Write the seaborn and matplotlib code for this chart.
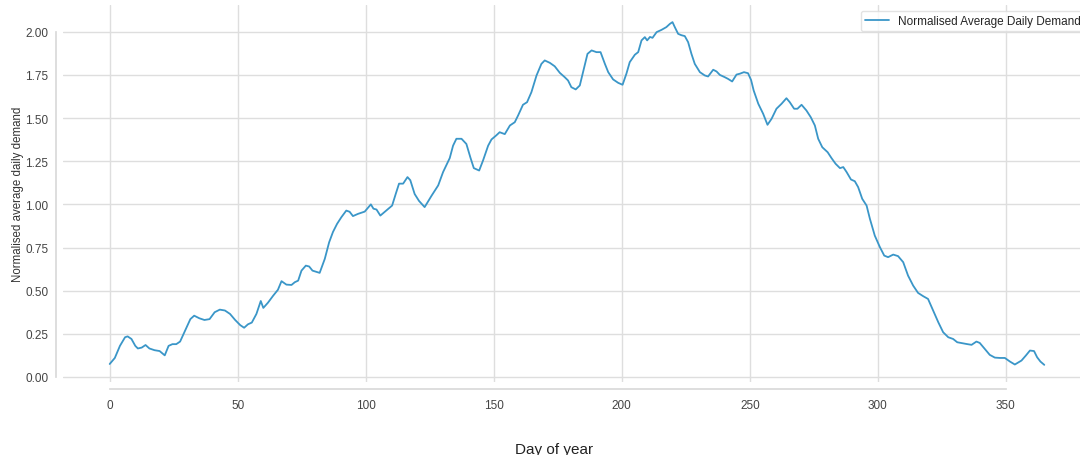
"""
Normalised average daily demand across the year, drawn as a single line.
"""

import numpy as np
import pandas as pd
import seaborn as sns
import matplotlib.pyplot as plt

# ---------------------------------------------------------------------------
# Data
# ---------------------------------------------------------------------------
days = [
    0, 2, 4, 6, 7, 8.5, 10, 11, 12.5, 14, 15.5, 17.5, 19.5, 21.5, 23, 24.5,
    26, 27.5, 29.5, 31.5, 33, 35, 37, 39, 41, 43, 45, 47, 49, 51, 52.5, 54,
    55.5, 57.3, 59, 60, 61.8, 63.8, 65.7, 67.1, 69, 71, 72.3, 73.6, 74.9,
    76.6, 77.9, 79.2, 82, 84, 85.7, 87.2, 88.8, 90.5, 92.4, 93.7, 95, 97,
    99.6, 102, 103, 104.2, 105.7, 108, 110.3, 111.7, 113, 114.6, 116.3,
    117.4, 119.1, 120.8, 123, 125.7, 128.3, 130.2, 132.8, 134.1, 135.4,
    137.4, 139.3, 140.9, 142.2, 144.3, 145.8, 147.8, 149.1, 151, 152.3,
    154.3, 156.3, 158.2, 159.5, 161.4, 163, 164.7, 166.7, 168.6, 169.9,
    171.9, 173.8, 175.8, 177.7, 179, 180.3, 182, 183.6, 185.2, 186.6, 188.2,
    190.1, 191.7, 193.4, 194.7, 196.6, 198.6, 200.3, 201.8, 203.1, 205.1,
    206.4, 207.7, 209, 209.9, 211, 212, 213.6, 215.5, 217.4, 218.8, 219.8,
    220.7, 222, 223.3, 224.6, 225.9, 227.2, 228.5, 230.5, 232.4, 233.7,
    235.7, 237, 238.3, 240.2, 241.5, 243.1, 244.8, 246.1, 247.7, 249.3,
    250.5, 251.5, 253.3, 255.2, 256.9, 258.5, 260.4, 262.4, 264.3, 265.6,
    267.3, 268.6, 270.2, 272.1, 273.8, 275.4, 276.7, 278.3, 280.4, 281.9,
    283.5, 285.2, 286.5, 287.8, 289.5, 291, 292.3, 293.9, 295.6, 296.9,
    298.8, 300.8, 302.5, 304, 306, 307.9, 309.9, 311.8, 313.8, 315.7, 317.7,
    319.6, 321.6, 323.6, 325.5, 327.5, 329.4, 331, 333.1, 334.6, 336.6,
    338.5, 339.8, 341.8, 343.7, 345.7, 347.7, 349.6, 351.6, 353.5, 356.1,
    357.8, 359.4, 361, 362.2, 363.5, 365,
]

demand = [
    0.075, 0.11, 0.18, 0.23, 0.235, 0.22, 0.18, 0.165, 0.17, 0.185, 0.165,
    0.155, 0.15, 0.125, 0.18, 0.19, 0.19, 0.205, 0.27, 0.335, 0.355, 0.34,
    0.33, 0.335, 0.375, 0.39, 0.385, 0.365, 0.33, 0.30, 0.285, 0.305, 0.315,
    0.365, 0.44, 0.40, 0.43, 0.47, 0.505, 0.555, 0.535, 0.533, 0.549, 0.558,
    0.616, 0.645, 0.64, 0.616, 0.603, 0.684, 0.78, 0.84, 0.887, 0.926,
    0.964, 0.957, 0.932, 0.945, 0.958, 1.00, 0.975, 0.97, 0.935, 0.964,
    0.993, 1.06, 1.12, 1.12, 1.158, 1.14, 1.06, 1.02, 0.984, 1.05, 1.11,
    1.187, 1.268, 1.34, 1.38, 1.38, 1.35, 1.27, 1.21, 1.196, 1.254, 1.34,
    1.376, 1.40, 1.418, 1.407, 1.457, 1.476, 1.515, 1.577, 1.592, 1.65,
    1.747, 1.814, 1.834, 1.82, 1.80, 1.762, 1.737, 1.718, 1.679, 1.666,
    1.689, 1.786, 1.872, 1.892, 1.882, 1.882, 1.814, 1.766, 1.724, 1.704,
    1.693, 1.757, 1.824, 1.867, 1.882, 1.95, 1.969, 1.95, 1.97, 1.965,
    1.998, 2.011, 2.027, 2.046, 2.056, 2.027, 1.988, 1.98, 1.975, 1.94,
    1.872, 1.814, 1.766, 1.747, 1.741, 1.78, 1.77, 1.75, 1.737, 1.727,
    1.712, 1.752, 1.757, 1.766, 1.76, 1.72, 1.66, 1.583, 1.525, 1.461,
    1.496, 1.554, 1.583, 1.615, 1.592, 1.554, 1.554, 1.577, 1.544, 1.505,
    1.457, 1.38, 1.331, 1.302, 1.268, 1.235, 1.21, 1.216, 1.187, 1.144,
    1.134, 1.10, 1.032, 0.993, 0.916, 0.819, 0.752, 0.703, 0.694, 0.709,
    0.70, 0.665, 0.587, 0.529, 0.487, 0.468, 0.452, 0.384, 0.317, 0.259,
    0.23, 0.22, 0.201, 0.195, 0.191, 0.186, 0.205, 0.197, 0.162, 0.128,
    0.112, 0.11, 0.11, 0.089, 0.072, 0.095, 0.124, 0.153, 0.15, 0.114,
    0.089, 0.07,
]

df = pd.DataFrame({"day": days, "demand": demand})

# ---------------------------------------------------------------------------
# Style
# ---------------------------------------------------------------------------
sns.set_theme(style="whitegrid")
plt.rcParams["font.family"] = ["Liberation Sans", "DejaVu Sans"]
plt.rcParams["axes.edgecolor"] = "#d9d9d9"
plt.rcParams["grid.color"] = "#dedede"

fig = plt.figure(figsize=(10.8, 4.56), dpi=100)
# the original was wider than the saved crop, so the axes run past the right edge
ax = fig.add_axes([0.0583, 0.1601, 0.9519, 0.8268])

sns.lineplot(data=df, x="day", y="demand", color="#3a96c8", linewidth=1.3,
             label="Normalised Average Daily Demand", ax=ax)

ax.set_yticks([0, 0.25, 0.5, 0.75, 1.0, 1.25, 1.5, 1.75, 2.0])
ax.set_xticks([0, 50, 100, 150, 200, 250, 300, 350])
ax.tick_params(axis="both", labelsize=8.5, labelcolor="#444444", length=0)
ax.tick_params(axis="x", pad=7)
ax.tick_params(axis="y", pad=5.5)

ax.set_ylabel("Normalised average daily demand", fontsize=8.3, color="#333333")
ax.yaxis.set_label_coords(-0.038, 0.5)
ax.set_xlabel("Day of year", fontsize=11, color="#222222")
ax.xaxis.set_label_coords(0.478, -0.158)

ax.legend(loc="upper right", fontsize=8.5, frameon=True, edgecolor="#dddddd",
          borderpad=0.35, handlelength=2.0)

sns.despine(ax=ax, offset=5, trim=True)

fig.savefig("out.png", dpi=100)
